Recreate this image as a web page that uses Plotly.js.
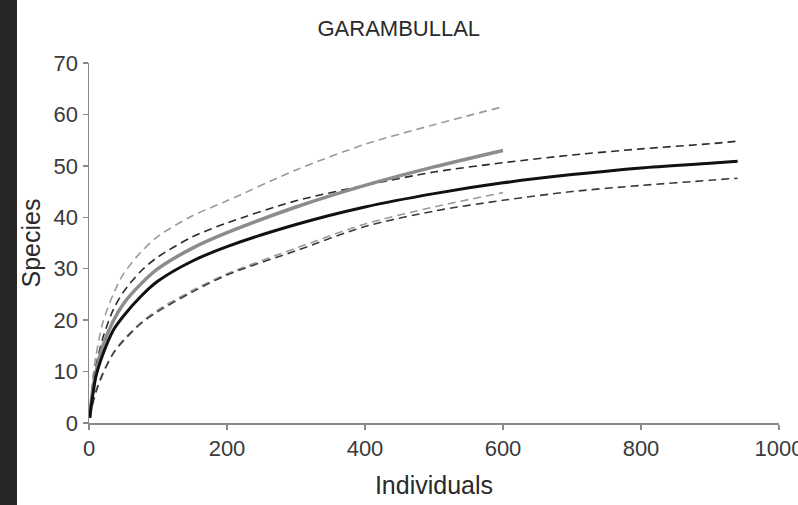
<!DOCTYPE html>
<html>
<head>
<meta charset="utf-8">
<script src="https://cdn.plot.ly/plotly-3.0.1.min.js"></script>
<style>
  html, body { margin: 0; padding: 0; background: #262626; overflow: hidden; }
  #wrap { position: absolute; left: 17px; top: 0; width: 781px; height: 505px; background: #ffffff; }
  #chart { width: 781px; height: 505px; }
</style>
</head>
<body>
<div id="wrap"><div id="chart"></div></div>
<script>
// Site B (black, to 940 individuals)
const xB = [1, 5, 10, 20, 35, 50, 75, 100, 150, 200, 300, 400, 500, 600, 700, 800, 900, 940];
const yB = [1, 5, 9, 13.3, 18, 20.8, 24.6, 27.6, 31.5, 34.3, 38.6, 42, 44.6, 46.7, 48.3, 49.6, 50.5, 50.9];
const yBUp = [1, 6.5, 11, 16.5, 22, 25.5, 29.5, 32.3, 36.2, 38.9, 43.2, 46.2, 48.8, 50.6, 52.1, 53.3, 54.3, 54.8];
const yBLo = [1, 3.5, 6, 9.5, 13.5, 16, 19.3, 21.7, 25.5, 28.8, 33.5, 38.2, 41.2, 43.3, 45, 46.2, 47.2, 47.6];

// Site G (grey, to 600 individuals)
const xG = [1, 5, 10, 20, 35, 50, 75, 100, 150, 200, 300, 400, 500, 600];
const yG = [1, 6, 9.8, 15, 19.8, 23.2, 27, 30, 34, 37, 42, 46.2, 49.8, 53];
const yGUp = [1, 8, 13, 19.5, 25, 29, 33.2, 36.3, 40.3, 43.2, 49.2, 54.2, 58, 61.5];
const yGLo = [1, 3.8, 6.3, 9.8, 13.6, 16.2, 19.5, 22, 25.8, 29, 34, 38.7, 42, 44.8];

const chartTitle = "GARAMBULLAL";
const xTitle = "Individuals";
const yTitle = "Species";
const xTicks = [0, 200, 400, 600, 800, 1000];
const yTicks = [0, 10, 20, 30, 40, 50, 60, 70];

function tr(x, y, color, width, dash) {
  return { x: x, y: y, type: 'scatter', mode: 'lines', hoverinfo: 'skip', cliponaxis: false,
    line: { color: color, width: width, dash: dash, shape: 'spline', smoothing: 0.8 } };
}

const data = [
  tr(xG, yGUp, '#9a9a9a', 1.6, '8px,5px'),
  tr(xG, yGLo, '#9a9a9a', 1.6, '8px,5px'),
  tr(xB, yBUp, '#2a2a2a', 1.6, '8px,5px'),
  tr(xB, yBLo, '#3a3a3a', 1.6, '8px,5px'),
  tr(xG, yG, '#8c8c8c', 3.5, 'solid'),
  tr(xB, yB, '#111111', 3, 'solid')
];

const FONT = 'Liberation Sans, Arial, sans-serif';
const tickFont = { family: FONT, size: 22, color: '#3a3a3a' };

const layout = {
  width: 781, height: 505,
  margin: { l: 72, r: 19, t: 63, b: 82 },
  paper_bgcolor: '#ffffff', plot_bgcolor: '#ffffff',
  showlegend: false,
  title: { text: chartTitle, font: { family: FONT, size: 22, color: '#2a2a2a' },
    xref: 'paper', x: 0.449, xanchor: 'center', yref: 'container', y: 0.9446, yanchor: 'middle' },
  xaxis: {
    range: [0, 1000], tickvals: xTicks, ticktext: xTicks.map(String),
    showgrid: false, zeroline: false, showline: true, linecolor: '#8a8a8a', linewidth: 1.5,
    ticks: 'outside', ticklen: 5, tickcolor: '#8a8a8a', tickwidth: 1.5,
    tickfont: tickFont, automargin: false, ticklabeloverflow: 'allow',
    title: { text: xTitle, font: { family: FONT, size: 25, color: '#2a2a2a' }, standoff: 16 }
  },
  yaxis: {
    range: [0, 70], tickvals: yTicks, ticktext: yTicks.map(String),
    showgrid: false, zeroline: false, showline: true, linecolor: '#8a8a8a', linewidth: 1.5,
    ticks: 'outside', ticklen: 5, tickcolor: '#8a8a8a', tickwidth: 1.5,
    tickfont: tickFont, automargin: false, ticklabeloverflow: 'allow',
    title: { text: yTitle, font: { family: FONT, size: 25, color: '#2a2a2a' }, standoff: 12 }
  }
};

Plotly.newPlot('chart', data, layout, { staticPlot: true, displayModeBar: false });
</script>
</body>
</html>
